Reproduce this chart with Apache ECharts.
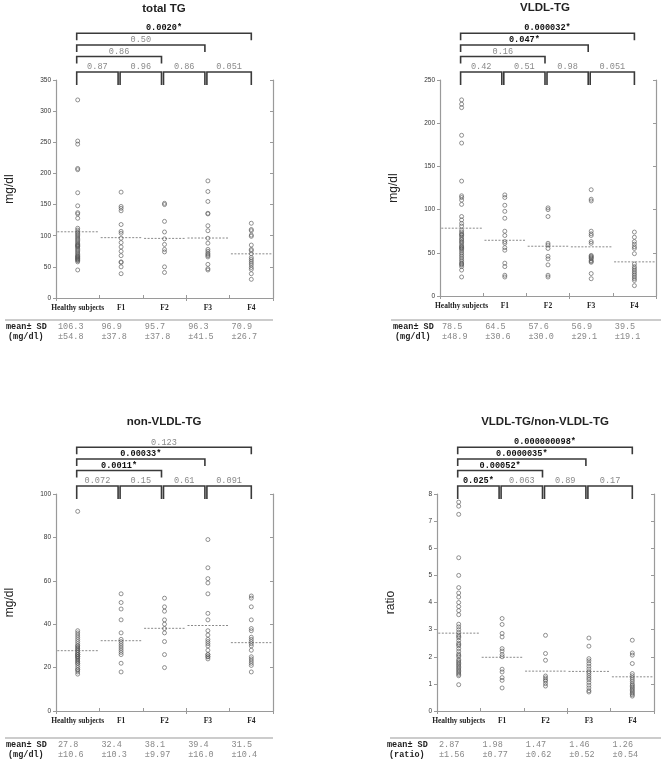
<!DOCTYPE html>
<html><head><meta charset="utf-8">
<script src="https://cdn.jsdelivr.net/npm/echarts@6/dist/echarts.min.js"></script>
<style>html,body{margin:0;padding:0;background:#fff}#c{width:661px;height:762px}</style>
</head><body><div id="c"></div>
<script>
// ---------------- DATA ----------------
const categories = ['Healthy subjects', 'F1', 'F2', 'F3', 'F4'];

// total TG (mg/dl)
const tgHealthy = [318, 252, 247, 208, 206, 169, 148, 137, 135, 128, 112, 109, 106, 104, 102, 100, 98, 96, 94, 92, 90, 88, 86, 85, 84, 83, 82, 80, 78, 76, 74, 72, 70, 68, 67, 66, 65, 64, 63, 62, 61, 60, 58, 45];
const tgF1 = [170, 147, 144, 140, 118, 107, 104, 96, 89, 82, 75, 68, 58, 57, 50, 39];
const tgF2 = [152, 150, 123, 106, 95, 86, 78, 74, 50, 41];
const tgF3 = [188, 171, 155, 136, 135, 116, 108, 96, 88, 78, 75, 72, 70, 68, 66, 54, 47, 45];
const tgF4 = [120, 110, 108, 101, 99, 85, 78, 76, 71, 65, 62, 59, 56, 53, 49, 46, 39, 30];
const tgMean = ['106.3', '96.9', '95.7', '96.3', '70.9'];
const tgSD = ['54.8', '37.8', '37.8', '41.5', '26.7'];
const tgPAdj = ['0.87', '0.96', '0.86', '0.051'];
const tgPVsH = ['0.86', '0.50', '0.0020*'];

// VLDL-TG (mg/dl)
const vldlHealthy = [227, 222, 218, 186, 177, 133, 116, 114, 111, 106, 92, 88, 84, 81, 76, 74, 72, 71, 70, 68, 66, 65, 63, 62, 60, 58, 57, 56, 55, 54, 52, 50, 48, 46, 44, 42, 40, 38, 37, 36, 34, 30, 22];
const vldlF1 = [117, 114, 105, 98, 90, 75, 70, 63, 61, 56, 53, 38, 34, 24, 22];
const vldlF2 = [102, 100, 92, 61, 59, 55, 46, 43, 36, 24, 22];
const vldlF3 = [123, 112, 110, 75, 72, 70, 63, 61, 47, 46, 45, 44, 43, 41, 40, 39, 26, 20];
const vldlF4 = [74, 68, 63, 60, 57, 55, 49, 37, 34, 32, 30, 28, 26, 24, 22, 20, 18, 12];
const vldlMean = ['78.5', '64.5', '57.6', '56.9', '39.5'];
const vldlSD = ['48.9', '30.6', '30.0', '29.1', '19.1'];
const vldlPAdj = ['0.42', '0.51', '0.98', '0.051'];
const vldlPVsH = ['0.16', '0.047*', '0.000032*'];

// non-VLDL-TG (mg/dl)
const nonHealthy = [92, 37, 36, 35, 34, 33, 32, 31, 30, 30, 29, 29, 28, 28, 27, 27, 26, 26, 26, 25, 25, 25, 24, 24, 23, 23, 22, 22, 21, 20, 19, 19, 18, 17];
const nonF1 = [54, 50, 47, 42, 36, 33, 32, 31, 30, 29, 28, 27, 26, 22, 18];
const nonF2 = [52, 48, 46, 42, 40, 38, 36, 32, 26, 20];
const nonF3 = [79, 66, 61, 59, 54, 45, 42, 37, 35, 33, 32, 31, 30, 28, 26, 26, 25, 25, 24];
const nonF4 = [53, 52, 48, 42, 38, 37, 34, 33, 32, 31, 30, 28, 25, 24, 23, 22, 21, 18];
const nonMean = ['27.8', '32.4', '38.1', '39.4', '31.5'];
const nonSD = ['10.6', '10.3', '9.97', '16.0', '10.4'];
const nonPAdj = ['0.072', '0.15', '0.61', '0.091'];
const nonPVsH = ['0.0011*', '0.00033*', '0.123'];

// VLDL-TG / non-VLDL-TG (ratio)
const ratioHealthy = [7.7, 7.55, 7.25, 5.65, 5.0, 4.55, 4.35, 4.2, 4.0, 3.85, 3.7, 3.55, 3.2, 3.1, 3.0, 2.9, 2.8, 2.75, 2.7, 2.6, 2.5, 2.45, 2.4, 2.3, 2.2, 2.1, 2.05, 2.0, 1.9, 1.85, 1.8, 1.75, 1.7, 1.65, 1.6, 1.55, 1.5, 1.45, 1.4, 1.35, 1.3, 0.97];
const ratioF1 = [3.41, 3.19, 2.86, 2.73, 2.30, 2.21, 2.08, 2.0, 1.54, 1.44, 1.23, 1.13, 0.85];
const ratioF2 = [2.79, 2.12, 1.87, 1.29, 1.22, 1.15, 1.1, 1.01, 0.92];
const ratioF3 = [2.69, 2.39, 1.93, 1.85, 1.75, 1.65, 1.55, 1.45, 1.38, 1.3, 1.22, 1.15, 1.05, 0.95, 0.85, 0.75, 0.70];
const ratioF4 = [2.61, 2.14, 2.06, 1.75, 1.38, 1.3, 1.22, 1.15, 1.08, 1.0, 0.95, 0.9, 0.85, 0.8, 0.75, 0.7, 0.65, 0.6, 0.55];
const ratioMean = ['2.87', '1.98', '1.47', '1.46', '1.26'];
const ratioSD = ['1.56', '0.77', '0.62', '0.52', '0.54'];
const ratioPAdj = ['0.025*', '0.063', '0.89', '0.17'];
const ratioPVsH = ['0.00052*', '0.0000035*', '0.000000098*'];

// ---------------- LAYOUT ----------------
const MONO = '"Liberation Mono", "DejaVu Sans Mono", monospace';
const SANS = '"Liberation Sans", Arial, sans-serif';
const SERIF = '"Liberation Serif", "Times New Roman", serif';

const panels = [
  {title: 'total TG', groups: [tgHealthy, tgF1, tgF2, tgF3, tgF4], mean: tgMean, sd: tgSD, pAdj: tgPAdj, pVsH: tgPVsH,
   yMax: 350, yInt: 50, yName: 'mg/dl', unit: '(mg/dl)',
   L: {left: 56, top: 80, width: 217, height: 218, titleX: 164, titleY: 9, ruleX1: 5, ruleX2: 273, ruleY: 320, row1: 327, row2: 337, labX: 6}},
  {title: 'VLDL-TG', groups: [vldlHealthy, vldlF1, vldlF2, vldlF3, vldlF4], mean: vldlMean, sd: vldlSD, pAdj: vldlPAdj, pVsH: vldlPVsH,
   yMax: 250, yInt: 50, yName: 'mg/dl', unit: '(mg/dl)',
   L: {left: 440, top: 80, width: 216, height: 216, titleX: 545, titleY: 8, ruleX1: 391, ruleX2: 661, ruleY: 320, row1: 327, row2: 337, labX: 393}},
  {title: 'non-VLDL-TG', groups: [nonHealthy, nonF1, nonF2, nonF3, nonF4], mean: nonMean, sd: nonSD, pAdj: nonPAdj, pVsH: nonPVsH,
   yMax: 100, yInt: 20, yName: 'mg/dl', unit: '(mg/dl)',
   L: {left: 56, top: 494, width: 217, height: 217, titleX: 164, titleY: 422, ruleX1: 5, ruleX2: 273, ruleY: 738, row1: 745, row2: 754.5, labX: 6}},
  {title: 'VLDL-TG/non-VLDL-TG', groups: [ratioHealthy, ratioF1, ratioF2, ratioF3, ratioF4], mean: ratioMean, sd: ratioSD, pAdj: ratioPAdj, pVsH: ratioPVsH,
   yMax: 8, yInt: 1, yName: 'ratio', unit: '(ratio)',
   L: {left: 437, top: 494, width: 217, height: 217, titleX: 545, titleY: 422, ruleX1: 390, ruleX2: 661, ruleY: 738, row1: 745, row2: 754.5, labX: 387}}
];

const LEVEL_OFF = [-8, -23.5, -35, -46.7];
const AXIS_COLOR = '#9a9a9a';

const grids = [], xAxes = [], yAxes = [], series = [], graphics = [];

panels.forEach((p, k) => {
  const L = p.L;
  grids.push({left: L.left, top: L.top, width: L.width, height: L.height, containLabel: false, outerBoundsMode: 'none'});
  const xBase = {type: 'category', data: categories, gridIndex: k, boundaryGap: true,
    axisLine: {show: true, lineStyle: {color: AXIS_COLOR, width: 1.2}},
    axisTick: {show: true, inside: true, length: 3, lineStyle: {color: AXIS_COLOR}},
    splitLine: {show: false}};
  xAxes.push(Object.assign({}, xBase, {position: 'bottom',
    axisLabel: {show: true, interval: 0, margin: 6, fontFamily: SERIF, fontWeight: 'bold', fontSize: 7.5, color: '#222'}}));
  xAxes.push(Object.assign({}, xBase, {position: 'top', axisLabel: {show: false}}));
  const yBase = {type: 'value', gridIndex: k, min: 0, max: p.yMax, interval: p.yInt,
    axisLine: {show: true, lineStyle: {color: AXIS_COLOR, width: 1.2}},
    splitLine: {show: false}};
  yAxes.push(Object.assign({}, yBase, {position: 'left',
    axisTick: {show: true, inside: false, length: 3, lineStyle: {color: AXIS_COLOR}},
    axisLabel: {show: true, margin: 5, fontFamily: SANS, fontSize: 6.5, color: '#333'},
    name: p.yName, nameLocation: 'middle', nameGap: 40, nameRotate: 90,
    nameTextStyle: {fontFamily: SANS, fontSize: 12, color: '#222'}}));
  yAxes.push(Object.assign({}, yBase, {position: 'right',
    axisTick: {show: true, inside: true, length: 3, lineStyle: {color: AXIS_COLOR}},
    axisLabel: {show: false}}));

  const xi = 2 * k, yi = 2 * k;

  // scatter points
  const pts = [];
  p.groups.forEach((g, i) => g.forEach(v => pts.push([i, v])));
  series.push({type: 'scatter', xAxisIndex: xi, yAxisIndex: yi, data: pts, symbol: 'circle', symbolSize: 4,
    itemStyle: {color: 'rgba(255,255,255,0)', borderColor: '#555', borderWidth: 0.8}, z: 3, silent: true});

  // mean lines
  series.push({type: 'custom', xAxisIndex: xi, yAxisIndex: yi, silent: true, z: 2,
    data: p.mean.map((m, i) => [i, parseFloat(m)]),
    renderItem: (params, api) => {
      const c = api.coord([api.value(0), api.value(1)]);
      const half = api.size([1, 0])[0] * 0.47;
      return {type: 'line', shape: {x1: c[0] - half, y1: c[1], x2: c[0] + half, y2: c[1]},
        style: {stroke: '#8a8a8a', lineWidth: 1, lineDash: [2, 1.5]}};
    }});

  // significance brackets
  const br = [];
  const brLabels = [];
  p.pAdj.forEach((t, i) => { br.push([i, i + 1, 0]); brLabels.push(t); });
  p.pVsH.forEach((t, i) => { br.push([0, i + 2, i + 1]); brLabels.push(t); });
  series.push({type: 'custom', xAxisIndex: xi, yAxisIndex: yi, silent: true, z: 10, clip: false,
    encode: {x: [0, 1], y: 2},
    data: br,
    renderItem: (params, api) => {
      const s = api.value(0), e = api.value(1), lvl = api.value(2);
      const top = api.coord([0, p.yMax])[1];
      const x1 = api.coord([s, p.yMax])[0] - 1;
      const x2 = api.coord([e, p.yMax])[0] + (e === categories.length - 1 ? 0 : -3);
      const yl = top + LEVEL_OFF[lvl];
      const leg = lvl === 0 ? 13 : 7;
      const label = brLabels[params.dataIndex];
      const sig = label.indexOf('*') >= 0;
      return {type: 'group', children: [
        {type: 'polyline', shape: {points: [[x1, yl + leg], [x1, yl], [x2, yl], [x2, yl + leg]]},
          style: {stroke: '#3a3a3a', lineWidth: 1.6, fill: null}},
        {type: 'text', style: {text: label, x: (x1 + x2) / 2, y: yl - 0.5, align: 'center', verticalAlign: 'bottom',
          fontFamily: MONO, fontSize: 8.6, fontWeight: sig ? 'bold' : 'normal', fill: sig ? '#111' : '#8a8a8a'}}
      ]};
    }});

  // table values
  series.push({type: 'custom', xAxisIndex: xi, yAxisIndex: yi, silent: true, clip: false,
    data: p.mean.map((m, i) => [i, 0]),
    renderItem: (params, api) => {
      const i = api.value(0);
      const x = api.coord([i, 0])[0] - api.size([1, 0])[0] / 2 + 2;
      return {type: 'group', children: [
        {type: 'text', style: {text: p.mean[i], x: x, y: L.row1, align: 'left', verticalAlign: 'middle',
          fontFamily: MONO, fontSize: 8.5, fill: '#888'}},
        {type: 'text', style: {text: '\u00b1' + p.sd[i], x: x, y: L.row2, align: 'left', verticalAlign: 'middle',
          fontFamily: MONO, fontSize: 8.5, fill: '#888'}}
      ]};
    }});

  // static decorations: title, table rule, row labels
  graphics.push({type: 'text', x: L.titleX, y: L.titleY, style: {text: p.title, align: 'center', verticalAlign: 'middle',
    fontFamily: SANS, fontSize: 11.5, fontWeight: 'bold', fill: '#222'}});
  graphics.push({type: 'line', shape: {x1: L.ruleX1, y1: L.ruleY, x2: L.ruleX2, y2: L.ruleY},
    style: {stroke: '#999', lineWidth: 1.2}});
  graphics.push({type: 'text', x: L.labX, y: L.row1, style: {text: 'mean\u00b1 SD', align: 'left', verticalAlign: 'middle',
    fontFamily: MONO, fontSize: 8.5, fontWeight: 'bold', fill: '#222'}});
  graphics.push({type: 'text', x: L.labX + 2, y: L.row2, style: {text: p.unit, align: 'left', verticalAlign: 'middle',
    fontFamily: MONO, fontSize: 8.5, fontWeight: 'bold', fill: '#222'}});
});

const chart = echarts.init(document.getElementById('c'), null, {renderer: 'canvas', width: 661, height: 762});
chart.setOption({
  animation: false,
  backgroundColor: '#ffffff',
  grid: grids,
  xAxis: xAxes,
  yAxis: yAxes,
  series: series,
  graphic: graphics
});
</script>
</body></html>
